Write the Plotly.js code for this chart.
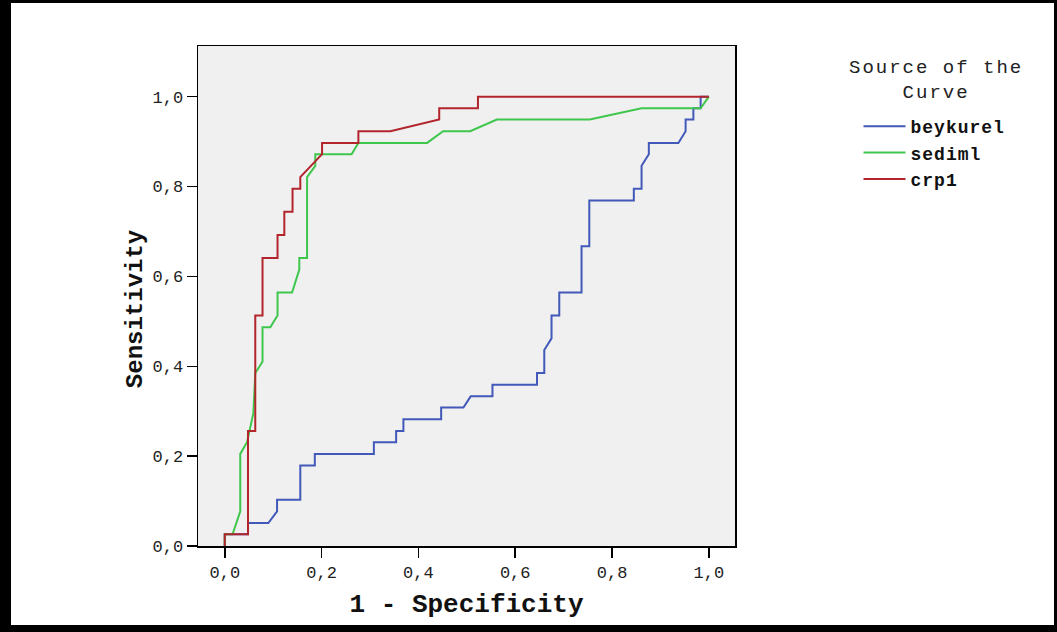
<!DOCTYPE html>
<html>
<head>
<meta charset="utf-8">
<script src="https://cdn.plot.ly/plotly-3.0.1.min.js"></script>
<style>
  html, body { margin: 0; padding: 0; background: #ffffff; }
  #wrap { position: relative; width: 1057px; height: 632px; overflow: hidden; }
  #chart { position: absolute; left: 0; top: 0; width: 1057px; height: 632px; }
  #frame { position: absolute; left: 0; top: 0; width: 1057px; height: 632px; box-sizing: border-box;
           border-style: solid; border-color: #000; border-width: 3px 3px 7px 11px; pointer-events: none; }
  .legtitle .annotation-text { letter-spacing: 2px; }
  .legendtext { letter-spacing: 1px; }
</style>
</head>
<body>
<div id="wrap"><div id="chart"></div><div id="frame"></div></div>
<script>
// ----- data -----
const seriesNames = ["beykurel", "sediml", "crp1"];
const seriesColors = ["#4259ba", "#3fc64c", "#b2252c"];

const beykurelX = [0, 0, 0.048, 0.048, 0.090, 0.108, 0.108, 0.156, 0.156, 0.186, 0.186, 0.308, 0.308, 0.354, 0.354, 0.369, 0.369, 0.447, 0.447, 0.493, 0.508, 0.553, 0.553, 0.645, 0.645, 0.660, 0.660, 0.675, 0.675, 0.691, 0.691, 0.737, 0.737, 0.753, 0.753, 0.845, 0.845, 0.861, 0.861, 0.876, 0.876, 0.937, 0.952, 0.952, 0.968, 0.968, 0.983, 0.983, 1];
const beykurelY = [0, 0.026, 0.026, 0.051, 0.051, 0.077, 0.103, 0.103, 0.179, 0.179, 0.205, 0.205, 0.231, 0.231, 0.256, 0.256, 0.282, 0.282, 0.308, 0.308, 0.333, 0.333, 0.359, 0.359, 0.385, 0.385, 0.436, 0.462, 0.513, 0.513, 0.564, 0.564, 0.667, 0.667, 0.769, 0.769, 0.795, 0.795, 0.846, 0.872, 0.897, 0.897, 0.923, 0.949, 0.949, 0.974, 0.974, 1, 1];

const sedimlX = [0, 0, 0.016, 0.032, 0.032, 0.046, 0.059, 0.063, 0.078, 0.078, 0.094, 0.109, 0.109, 0.139, 0.154, 0.154, 0.170, 0.170, 0.187, 0.187, 0.262, 0.276, 0.418, 0.451, 0.507, 0.562, 0.754, 0.861, 0.983, 1];
const sedimlY = [0, 0.026, 0.026, 0.077, 0.205, 0.231, 0.295, 0.385, 0.410, 0.487, 0.487, 0.513, 0.564, 0.564, 0.615, 0.641, 0.641, 0.821, 0.846, 0.872, 0.872, 0.897, 0.897, 0.923, 0.923, 0.949, 0.949, 0.974, 0.974, 1];

const crp1X = [0, 0, 0.048, 0.048, 0.063, 0.063, 0.078, 0.078, 0.109, 0.109, 0.123, 0.123, 0.140, 0.140, 0.156, 0.156, 0.201, 0.201, 0.276, 0.276, 0.342, 0.443, 0.443, 0.523, 0.523, 1];
const crp1Y = [0, 0.026, 0.026, 0.256, 0.256, 0.513, 0.513, 0.641, 0.641, 0.692, 0.692, 0.744, 0.744, 0.795, 0.795, 0.821, 0.872, 0.897, 0.897, 0.923, 0.923, 0.949, 0.974, 0.974, 1, 1];

const tickVals = [0, 0.2, 0.4, 0.6, 0.8, 1.0];
const tickLabels = ["0,0", "0,2", "0,4", "0,6", "0,8", "1,0"];

const xTitle = "1 - Specificity";
const yTitle = "Sensitivity";
const legendTitle = "Source of the<br>Curve";

// ----- chart -----
const xs = [beykurelX, sedimlX, crp1X];
const ys = [beykurelY, sedimlY, crp1Y];
const traces = seriesNames.map((n, i) => ({
  type: "scatter", mode: "lines", name: n, x: xs[i], y: ys[i],
  line: { color: seriesColors[i], width: 2 }
}));

const mono = "Liberation Mono, Courier New, monospace";
const axisCommon = {
  showgrid: false, zeroline: false, showline: true, mirror: true,
  linecolor: "#000", linewidth: 1.5,
  ticks: "outside", ticklen: 10, tickwidth: 1.5, tickcolor: "#000",
  tickvals: tickVals, ticktext: tickLabels,
  tickfont: { family: mono, size: 17, color: "#222" }
};

const layout = {
  width: 1057, height: 632,
  margin: { l: 198, r: 322, t: 46, b: 86 },
  paper_bgcolor: "#ffffff", plot_bgcolor: "#f0f0f0",
  showlegend: true,
  xaxis: Object.assign({}, axisCommon, {
    range: [-0.0553, 1.054],
    title: { text: "<b>" + xTitle + "</b>", font: { family: mono, size: 26, color: "#111" }, standoff: 12 }
  }),
  yaxis: Object.assign({}, axisCommon, {
    range: [0, 1.1127]
  }),
  legend: {
    x: 1.23, xanchor: "left", y: 0.876, yanchor: "top",
    bgcolor: "rgba(0,0,0,0)", borderwidth: 0,
    itemwidth: 42, tracegroupgap: 0,
    font: { family: mono, size: 18, color: "#111", weight: "bold" }
  },
  annotations: [
    {
      text: "<b>" + yTitle + "</b>", xref: "paper", yref: "paper", x: -0.117, y: 0.474,
      xanchor: "center", yanchor: "middle", showarrow: false, textangle: -90,
      font: { family: mono, size: 24, color: "#111" }
    },
    {
      text: legendTitle, xref: "paper", yref: "paper", x: 1.374, y: (546 - 80.5) / 500,
      xanchor: "center", yanchor: "middle", showarrow: false, align: "center",
      font: { family: mono, size: 19, color: "#222" }
    }
  ]
};

Plotly.newPlot("chart", traces, layout, { displayModeBar: false, staticPlot: true }).then(() => {
  const anns = document.querySelectorAll("#chart .annotation");
  if (anns.length > 1) anns[1].classList.add("legtitle");
});
</script>
</body>
</html>
